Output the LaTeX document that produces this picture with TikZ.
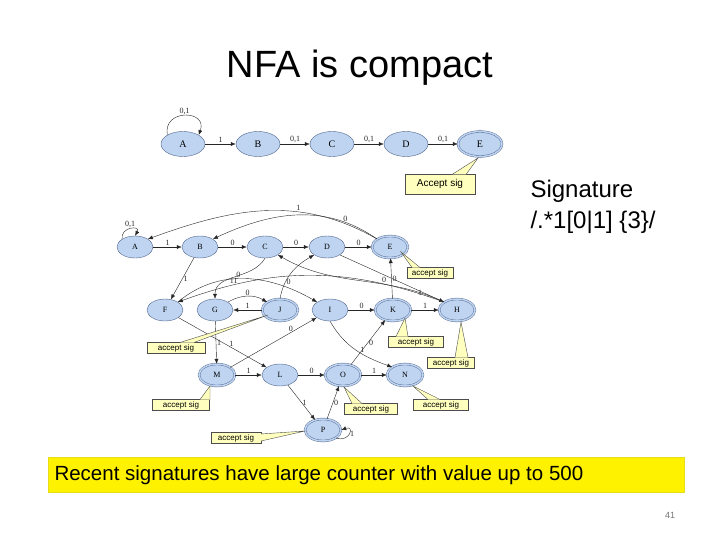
\documentclass[tikz,border=0pt]{standalone}
\usepackage{fontspec}
\setmainfont{Liberation Sans}
\newfontfamily\serf{Liberation Serif}
\usetikzlibrary{arrows.meta,shapes.geometric}
\definecolor{nf}{RGB}{190,212,240}
\definecolor{nd}{RGB}{80,100,140}
\definecolor{cy}{RGB}{255,255,190}
\begin{document}
\begin{tikzpicture}[x=1pt,y=-1pt,
 st/.style={ellipse,draw=nd,fill=nf,minimum width=44,minimum height=25,inner sep=0,font=\serf\fontsize{10}{10}\selectfont},
 sst/.style={ellipse,draw=nd,fill=nf,minimum width=36,minimum height=22,inner sep=0,font=\serf\fontsize{8}{8}\selectfont},
 acc/.style={double=nf,double distance=1.5pt},
 ar/.style={-{Latex[length=5pt,width=4pt]},black!85,thin},
 lb/.style={font=\serf\fontsize{8}{8}\selectfont,inner sep=1pt},
 call/.style={draw=black!70,fill=cy,font=\fontsize{8}{8}\selectfont,inner sep=1.5pt},
]
\useasboundingbox (0,0) rectangle (720,540);
\node (title) at (360,68) {\fontsize{38}{38}\selectfont NFA is compact};
\node[anchor=west,align=left,font=\fontsize{24}{31}\selectfont] (sig) at (527,207) {Signature\\/.*1[0|1] \{3\}/};
% top NFA
\node[st] (a) at (183,144) {A};
\node[st] (b) at (258,144) {B};
\node[st] (c) at (332,144) {C};
\node[st] (d) at (406,144) {D};
\node[st,acc] (e) at (480,144) {E};
\draw[ar] (a.north west) to[out=100,in=70,looseness=2.2] node[lb,above]{0,1} (a.north east);
\draw[ar] (a) -- node[lb,above]{1} (b);
\draw[ar] (b) -- node[lb,above]{0,1} (c);
\draw[ar] (c) -- node[lb,above]{0,1} (d);
\draw[ar] (d) -- node[lb,above]{0,1} (e);
\node[call,minimum width=70,minimum height=20,font=\fontsize{10}{10}\selectfont] (ce) at (440,184) {Accept sig};
\draw[draw=black!70,fill=cy] (452,174.5) -- (478,158) -- (466,174.5);
% second NFA
\node[sst] (A) at (135,247) {A};
\node[sst] (B) at (200,247) {B};
\node[sst] (C) at (265,247) {C};
\node[sst] (D) at (327,247) {D};
\node[sst,acc] (E) at (390,247) {E};
\node[sst] (F) at (165,310) {F};
\node[sst] (G) at (215,310) {G};
\node[sst,acc] (J) at (280,310) {J};
\node[sst] (I) at (330,310) {I};
\node[sst,acc] (K) at (393,310) {K};
\node[sst,acc] (H) at (457,310) {H};
\node[sst,acc] (M) at (217,375) {M};
\node[sst] (L) at (280,375) {L};
\node[sst,acc] (O) at (343,375) {O};
\node[sst,acc] (N) at (405,375) {N};
\node[sst,acc] (P) at (323,430) {P};
\draw[ar] (A.north west) to[out=100,in=60,looseness=2.4] node[lb,above]{0,1} (A.north);
\draw[ar] (A) -- node[lb,above]{1} (B);
\draw[ar] (B) -- node[lb,above]{0} (C);
\draw[ar] (C) -- node[lb,above]{0} (D);
\draw[ar] (D) -- node[lb,above]{0} (E);
\draw[ar] (E.north west) to[out=150,in=20] node[lb,pos=0.35,above]{1} (A.north east);
\draw[ar] (E.north west) to[out=145,in=25] node[lb,pos=0.2,above]{0} (B.north east);
\draw[ar] (B) -- node[lb,right]{1} (F);
\draw[ar] (C.south) to[out=-120,in=90] (G.north);
\draw[ar] (J.north) to[out=80,in=-150] node[lb,right,pos=0.3]{0} (D.south west);
\draw[ar] (G.north east) to[out=30,in=150] node[lb,above]{0} (J.north west);
\draw[ar] (J) -- node[lb,above]{1} (G);
\draw[ar] (F) -- node[lb,above,pos=0.6]{1} (L);
\draw[ar] (G) -- node[lb,right]{1} (M);
\draw[ar] (M) -- node[lb,above]{1} (L);
\draw[ar] (M) -- node[lb,above,pos=0.7]{0} (I);
\draw[ar] (L) -- node[lb,above]{0} (O);
\draw[ar] (L) -- node[lb,right]{1} (P);
\draw[ar] (P) -- node[lb,right]{0} (O);
\draw[ar] (P.south east) to[out=-20,in=20,looseness=4] node[lb,right]{1} (P.east);
\draw[ar] (O) -- node[lb,right]{0} (K);
\draw[ar] (O) -- node[lb,above]{1} (N);
\draw[ar] (I) -- node[lb,above]{0} (K);
\draw[ar] (I.south) to[out=-60,in=160] node[lb,above,pos=0.6]{1} (N.north west);
\draw[ar] (K) -- node[lb,above]{1} (H);
\draw[ar] (K) -- node[lb,right]{0} (E);
\draw[ar] (D.south east) -- node[lb,left,pos=0.8]{1} (H.north west);
\draw[ar] (H.north west) to[out=155,in=-30] node[lb,above,pos=0.35]{0} (C.south east);
\draw[ar] (H.north west) to[out=160,in=20] node[lb,above,pos=0.8]{11} (F.north east);
\draw[ar] (F.north east) to[out=40,in=150] node[lb,above,pos=0.45]{0} (I.north west);
% callouts
\tikzset{cl/.style={call,minimum width=#1,minimum height=11}}
\node[cl=46] (cE) at (430,273) {accept sig};
\draw[draw=black!70,fill=cy] (412,267.5) -- (401,252) -- (420,267.5);
\node[cl=55] (cK) at (416,342) {accept sig};
\draw[draw=black!70,fill=cy] (396,336.5) -- (405,318) -- (408,336.5);
\node[cl=47] (cH) at (451,363) {accept sig};
\draw[draw=black!70,fill=cy] (455,357.5) -- (461,322) -- (468,357.5);
\node[cl=58] (cJ) at (176,348) {accept sig};
\draw[draw=black!70,fill=cy] (180,342.5) -- (268,315) -- (194,342.5);
\node[cl=57] (cM) at (181,405) {accept sig};
\draw[draw=black!70,fill=cy] (200,399.5) -- (210,386) -- (210,399.5);
\node[cl=53] (cO) at (371,409) {accept sig};
\draw[draw=black!70,fill=cy] (352,403.5) -- (344,387) -- (362,403.5);
\node[cl=55] (cN) at (441,405) {accept sig};
\draw[draw=black!70,fill=cy] (428,399.5) -- (413,386) -- (440,399.5);
\node[cl=50] (cP) at (236,438) {accept sig};
\draw[draw=black!70,fill=cy] (261,434) -- (305,431) -- (261,441);
% bottom
\node[draw=yellow!90!black,fill=yellow,minimum width=636,minimum height=35,inner sep=0] (rec) at (366,475) {};
\node[anchor=west] (rt) at (51,475) {\fontsize{20.5}{21}\selectfont Recent signatures have large counter with value up to 500};
\node[text=black!55] (pg) at (670,515) {\fontsize{9}{9}\selectfont 41};
\end{tikzpicture}
\end{document}
